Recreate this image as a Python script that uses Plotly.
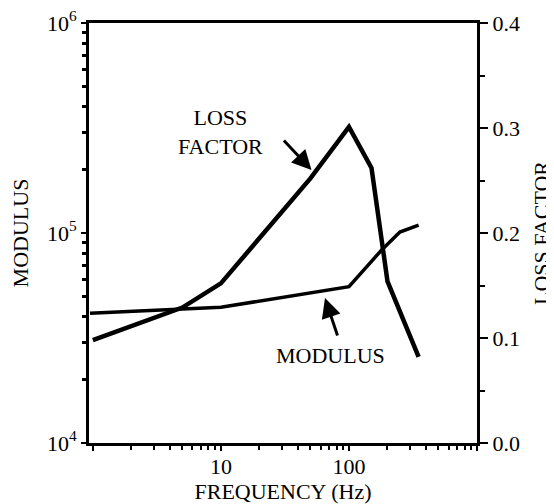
import plotly.graph_objects as go
import math

# ---- data ----
freq_loss = [1, 5, 10, 50, 100, 150, 200, 350]
loss_factor = [0.098, 0.129, 0.152, 0.252, 0.301, 0.262, 0.154, 0.082]

freq_mod = [0.95, 10, 100, 180, 250, 350]
modulus = [41500, 44300, 55500, 83000, 101000, 109000]

x_tick_vals = [1, 10, 100, 1000]
x_tick_text = ["", "10", "100", ""]
x_minor_vals = [k * d for d in (1, 10, 100) for k in range(2, 10)]
y_tick_vals = [1e4, 1e5, 1e6]
y_tick_text = ["10<sup>4</sup>", "10<sup>5</sup>", "10<sup>6</sup>"]
y_minor_vals = [k * d for d in (1e4, 1e5) for k in range(2, 10)]
y2_tick_vals = [0.0, 0.1, 0.2, 0.3, 0.4]
y2_tick_text = ["0.0", "0.1", "0.2", "0.3", "0.4"]
y2_minor_vals = [0.05, 0.15, 0.25, 0.35]

FONT = "Liberation Serif"

fig = go.Figure()
fig.add_trace(go.Scatter(x=freq_mod, y=modulus, mode="lines",
                         line=dict(color="black", width=3.5), yaxis="y",
                         name="MODULUS", showlegend=False))
fig.add_trace(go.Scatter(x=freq_loss, y=loss_factor, mode="lines",
                         line=dict(color="black", width=4.5), yaxis="y2",
                         name="LOSS FACTOR", showlegend=False))

# the page body adds an 8px margin, so the figure is 8px smaller than the window
fig.update_layout(
    width=546, height=496,
    margin=dict(l=81, r=77, t=15, b=61),
    paper_bgcolor="white", plot_bgcolor="white",
    font=dict(family=FONT, size=22, color="black"),
    xaxis=dict(
        type="log", range=[-0.03, 3.0], automargin=False,
        tickvals=x_tick_vals, ticktext=x_tick_text,
        ticks="outside", ticklen=5, tickwidth=2, tickcolor="black",
        ticklabelstandoff=-3,
        minor=dict(ticks="outside", ticklen=4, tickwidth=2, tickcolor="black",
                   tickmode="array", tickvals=x_minor_vals, showgrid=False),
        showline=True, linecolor="black", linewidth=3, mirror=True,
        showgrid=False, zeroline=False,
        tickfont=dict(family=FONT, size=22),
        title=dict(text="FREQUENCY (Hz)", font=dict(family=FONT, size=22), standoff=4),
    ),
    yaxis=dict(
        type="log", range=[4, 6], automargin=False,
        tickvals=y_tick_vals, ticktext=y_tick_text,
        ticks="outside", ticklen=5, tickwidth=2, tickcolor="black",
        ticklabeloverflow="allow",
        minor=dict(ticks="outside", ticklen=4, tickwidth=3, tickcolor="black",
                   tickmode="array", tickvals=y_minor_vals, showgrid=False),
        showline=True, linecolor="black", linewidth=3,
        showgrid=False, zeroline=False,
        tickfont=dict(family=FONT, size=22),
        title=dict(text="MODULUS", font=dict(family=FONT, size=22)),
    ),
    yaxis2=dict(
        overlaying="y", side="right", range=[0, 0.4], automargin=False,
        tickvals=y2_tick_vals, ticktext=y2_tick_text,
        ticks="outside", ticklen=8, tickwidth=2, tickcolor="black",
        ticklabeloverflow="allow",
        minor=dict(ticks="outside", ticklen=5, tickwidth=2, tickcolor="black",
                   tickmode="array", tickvals=y2_minor_vals, showgrid=False),
        showline=True, linecolor="black", linewidth=3,
        showgrid=False, zeroline=False,
        tickfont=dict(family=FONT, size=22),
        title=dict(text="LOSS FACTOR", font=dict(family=FONT, size=22)),
    ),
    annotations=[
        dict(x=1.0, y=0.296, xref="x", yref="y2", text="LOSS<br>FACTOR",
             showarrow=False, font=dict(family=FONT, size=22), align="center"),
        dict(x=1.859, y=0.083, xref="x", yref="y2", text="MODULUS",
             showarrow=False, font=dict(family=FONT, size=22)),
        dict(x=math.log10(51), y=0.26, xref="x", yref="y2", text="",
             showarrow=True, arrowhead=2, arrowsize=1.3, arrowwidth=3,
             arrowcolor="black", ax=-29, ay=-31),
        dict(x=math.log10(65), y=math.log10(49000), xref="x", yref="y", text="",
             showarrow=True, arrowhead=2, arrowsize=1.3, arrowwidth=3,
             arrowcolor="black", ax=13, ay=39),
    ],
)

fig.write_html("out.html")
